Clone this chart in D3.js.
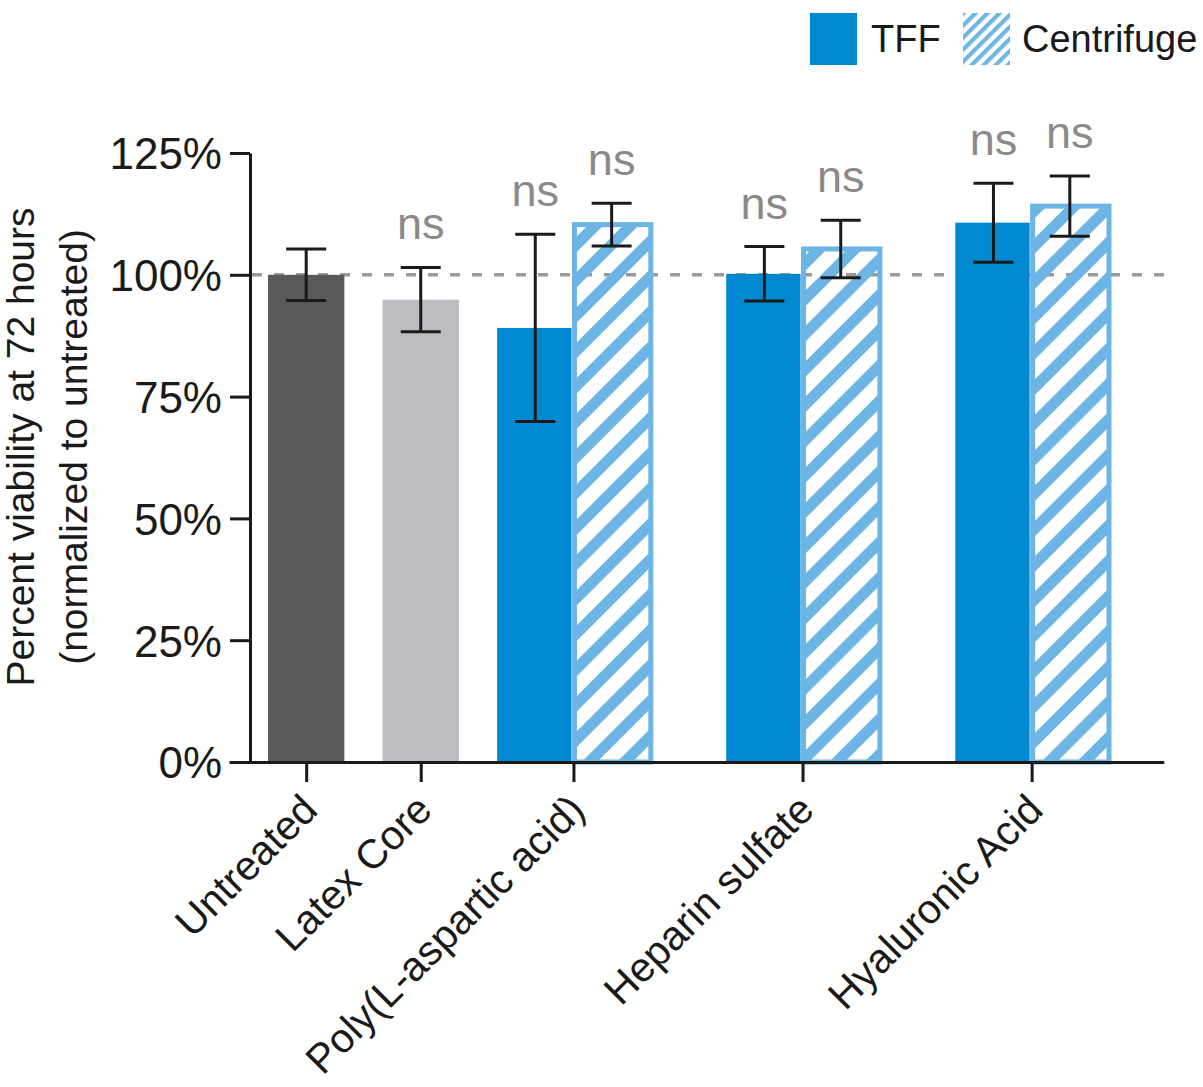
<!DOCTYPE html>
<html>
<head>
<meta charset="utf-8">
<script src="https://cdn.jsdelivr.net/npm/d3@7"></script>
<style>
  html, body { margin: 0; padding: 0; background: #fff; }
  svg { display: block; font-family: "Liberation Sans", Arial, Helvetica, sans-serif; }
</style>
</head>
<body>
<svg id="chart" width="1203" height="1087"></svg>
<script>
// ---------- data ----------
const controlCategories = ["Untreated", "Latex Core"];
const controlMeans = [100.0, 94.9];
const controlErrors = [5.3, 6.6];
const controlSignificance = ["", "ns"];

const treatedCategories = ["Poly(L-aspartic acid)", "Heparin sulfate", "Hyaluronic Acid"];
const seriesNames = ["TFF", "Centrifuge"];
const tffMeans = [89.1, 100.2, 110.7];
const tffErrors = [19.2, 5.6, 8.1];
const tffSignificance = ["ns", "ns", "ns"];
const centrifugeMeans = [110.3, 105.3, 114.1];
const centrifugeErrors = [4.4, 5.9, 6.2];
const centrifugeSignificance = ["ns", "ns", "ns"];

const yTicks = [0, 25, 50, 75, 100, 125];
const referenceLevel = 100;
const yTitleLines = ["Percent viability at 72 hours", "(normalized to untreated)"];

// ---------- style ----------
const controlColors = ["#58595b", "#bcbdc0"];
const tffColor = "#0088d1";
const centrifugeColor = "#6cb5e5";
const axisColor = "#1a1a1a";
const nsColor = "#8a8a8a";

// ---------- layout ----------
const svg = d3.select("#chart");
const y = d3.scaleLinear().domain([0, 125]).range([762, 153]);
// x in "bar slot" units
const x = d3.scaleLinear().domain([0, 11]).range([268, 1108]);
const bw = x(1) - x(0);

// build bar list: controls separated by half-slot gaps, treated pairs separated by one-slot gaps
const bars = [];
const catCenters = [];
const catNames = [];
controlCategories.forEach((c, i) => {
  const slot = i * 1.5;
  bars.push({ slot, mean: controlMeans[i], err: controlErrors[i], sig: controlSignificance[i], kind: "control", color: controlColors[i] });
  catCenters.push(slot + 0.5); catNames.push(c);
});
treatedCategories.forEach((c, i) => {
  const start = controlCategories.length * 1.5 + i * 3;
  bars.push({ slot: start, mean: tffMeans[i], err: tffErrors[i], sig: tffSignificance[i], kind: "tff" });
  bars.push({ slot: start + 1, mean: centrifugeMeans[i], err: centrifugeErrors[i], sig: centrifugeSignificance[i], kind: "centrifuge" });
  catCenters.push(start + 1); catNames.push(c);
});

// ---------- patterns ----------
const defs = svg.append("defs");
function hatch(id, period, stripe) {
  const p = defs.append("pattern").attr("id", id)
    .attr("patternUnits", "userSpaceOnUse")
    .attr("width", period).attr("height", period)
    .attr("patternTransform", "rotate(45)");
  p.append("rect").attr("x", 0).attr("y", 0).attr("width", stripe).attr("height", period)
    .attr("fill", centrifugeColor);
}
hatch("hatchBar", 25, 11);
hatch("hatchLegend", 8.5, 4.2);

// ---------- reference line ----------
svg.append("line")
  .attr("x1", 252).attr("x2", 1165)
  .attr("y1", y(referenceLevel)).attr("y2", y(referenceLevel))
  .attr("stroke", "#9a9a9a").attr("stroke-width", 3.5)
  .attr("stroke-dasharray", "10,12");

// ---------- bars ----------
const gBars = svg.append("g");
bars.forEach(b => {
  if (b.kind === "centrifuge") {
    gBars.append("rect")
      .attr("x", x(b.slot) + 1).attr("y", y(b.mean))
      .attr("width", bw).attr("height", y(0) - y(b.mean))
      .attr("fill", "url(#hatchBar)")
      .attr("stroke", centrifugeColor).attr("stroke-width", 5);
  } else {
    gBars.append("rect")
      .attr("x", x(b.slot)).attr("y", y(b.mean))
      .attr("width", b.kind === "tff" ? bw - 2 : bw).attr("height", y(0) - y(b.mean))
      .attr("fill", b.kind === "tff" ? tffColor : b.color);
  }
});

// ---------- error bars ----------
const capW = 40;
const gErr = svg.append("g").attr("stroke", axisColor).attr("stroke-width", 3);
bars.forEach(b => {
  const cx = x(b.slot + 0.5);
  gErr.append("line").attr("x1", cx).attr("x2", cx).attr("y1", y(b.mean + b.err)).attr("y2", y(b.mean - b.err));
  [b.mean + b.err, b.mean - b.err].forEach(v => {
    gErr.append("line").attr("x1", cx - capW / 2).attr("x2", cx + capW / 2).attr("y1", y(v)).attr("y2", y(v));
  });
  if (b.sig) {
    svg.append("text")
      .attr("x", cx).attr("y", y(b.mean + b.err) - 28)
      .attr("text-anchor", "middle")
      .attr("font-size", 45).attr("fill", nsColor)
      .text(b.sig);
  }
});

// ---------- axes ----------
const yAxis = svg.append("g").attr("transform", "translate(250,0)")
  .call(d3.axisLeft(y).tickValues(yTicks).tickFormat(d => d + "%").tickSize(20).tickSizeOuter(0).tickPadding(8));
yAxis.selectAll("path, line").attr("stroke", axisColor).attr("stroke-width", 3);
yAxis.selectAll("text").attr("font-size", 44).attr("fill", axisColor).attr("dy", "0.36em")
  .attr("font-family", "'Liberation Sans', Arial, sans-serif");

const xAxisScale = x.copy().domain([-0.51, 11.73]).range([x(-0.51), x(11.73)]);
const xAxis = svg.append("g").attr("transform", `translate(0,${y(0)})`)
  .call(d3.axisBottom(xAxisScale).tickValues(catCenters).tickFormat((d, i) => catNames[i]).tickSize(20).tickSizeOuter(0));
xAxis.selectAll("path, line").attr("stroke", axisColor).attr("stroke-width", 3);
xAxis.selectAll("text")
  .attr("font-size", 41).attr("fill", axisColor)
  .attr("font-family", "'Liberation Sans', Arial, sans-serif")
  .attr("text-anchor", "end")
  .attr("x", 0).attr("y", 0).attr("dy", 0)
  .attr("transform", "translate(13,50) rotate(-45)");

// ---------- y-axis title ----------
yTitleLines.forEach((t, i) => {
  svg.append("text")
    .attr("transform", `translate(${34 + i * 53},447) rotate(-90)`)
    .attr("text-anchor", "middle")
    .attr("font-size", 39).attr("fill", axisColor)
    .text(t);
});

// ---------- legend ----------
const legend = svg.append("g");
const legendItems = [
  { name: seriesNames[0], fill: tffColor, x: 810, tx: 871 },
  { name: seriesNames[1], fill: "url(#hatchLegend)", x: 963, tx: 1022 }
];
legendItems.forEach(it => {
  legend.append("rect").attr("x", it.x).attr("y", 13).attr("width", 47).attr("height", 52).attr("fill", it.fill);
  legend.append("text").attr("x", it.tx).attr("y", 52).attr("font-size", 38).attr("fill", axisColor).text(it.name);
});
</script>
</body>
</html>
